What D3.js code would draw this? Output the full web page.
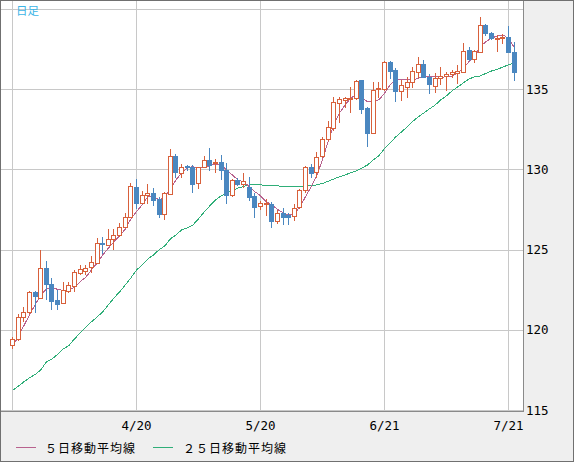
<!DOCTYPE html>
<html><head><meta charset="utf-8">
<script src="https://cdn.jsdelivr.net/npm/d3@7"></script>
<style>html,body{margin:0;padding:0;background:#fff;overflow:hidden}</style>
</head><body><svg id="c" width="574" height="462"></svg>
<script>
// ---- data ----
const openP = [119.03,119.41,120.78,121.09,122.36,121.96,123.85,122.86,121.86,121.65,
122.42,122.73,123.56,123.68,123.90,124.15,125.39,125.31,125.64,125.89,
126.43,127.05,128.88,127.92,128.39,128.55,128.14,127.22,128.45,130.84,
129.79,130.23,130.13,129.13,130.17,130.59,130.38,130.48,129.96,128.40,
129.34,129.07,128.92,128.34,127.74,127.84,127.84,126.80,127.26,127.16,
127.09,127.64,128.72,130.17,129.86,130.84,131.88,132.56,134.16,134.33,
134.37,134.43,135.57,133.81,132.29,134.99,135.01,136.71,136.20,134.91,
135.12,135.43,136.09,136.57,135.78,135.22,135.68,135.82,135.93,135.99,
136.09,137.44,136.86,137.34,139.00,138.52,138.15,138.21,138.24,137.34];
const highP = [119.53,120.97,121.40,122.44,122.44,124.98,124.29,123.23,122.48,123.00,
122.96,123.73,124.04,124.04,124.62,125.70,125.77,126.27,126.27,126.64,
127.26,129.15,129.38,128.67,129.07,128.82,128.30,128.61,131.25,130.96,
130.34,130.29,130.27,130.17,130.85,131.32,130.63,130.90,130.38,129.40,
129.45,129.76,129.55,128.51,128.05,128.14,127.99,127.47,127.57,127.26,
127.84,128.76,130.21,130.34,131.10,132.04,133.04,134.53,134.53,134.53,
135.16,135.57,135.57,133.91,135.47,135.47,136.77,136.77,136.30,135.57,
135.78,136.40,136.99,136.82,135.93,135.99,136.40,136.09,136.20,136.51,
137.86,137.65,137.44,139.48,139.06,138.58,138.38,138.44,138.94,137.96];
const lowP = [118.88,119.36,120.55,121.03,121.11,121.96,121.92,121.28,121.28,121.65,
122.38,122.44,123.48,123.48,123.62,124.15,124.77,125.31,125.04,125.85,
126.39,127.01,127.57,127.88,127.88,127.76,127.01,126.91,128.45,129.51,
129.55,129.96,128.61,128.82,130.13,129.96,129.86,129.38,127.89,128.34,
129.03,128.92,128.09,127.01,127.51,127.16,126.43,126.64,126.60,126.60,
126.85,127.57,128.61,129.51,129.55,130.79,131.83,132.46,132.97,133.91,
133.60,134.39,133.50,131.48,132.25,134.53,134.95,135.68,134.28,134.33,
134.50,135.12,135.78,135.73,134.78,134.84,135.32,134.95,135.78,135.37,
136.05,136.82,136.72,137.34,138.39,138.11,137.40,137.86,137.34,135.57];
const closeP = [119.41,120.78,121.09,122.36,122.13,123.83,122.84,121.81,121.61,122.48,
122.77,123.60,123.77,123.87,124.25,125.39,125.33,125.64,125.89,126.43,
127.05,128.97,127.92,128.40,128.51,128.09,127.22,128.51,130.84,129.86,
130.17,130.15,129.11,130.13,130.59,130.27,130.48,129.96,128.40,129.34,
129.07,129.30,128.30,127.67,127.89,127.89,126.80,127.26,127.05,127.05,
127.57,128.72,130.13,129.79,130.79,131.88,132.62,134.22,134.37,134.43,
134.43,135.53,133.75,132.29,134.95,135.06,136.71,136.15,134.91,135.26,
135.47,136.13,136.57,135.78,135.32,135.68,135.82,135.93,136.05,136.13,
137.40,136.86,137.40,139.00,138.52,138.17,138.21,138.27,137.34,136.09];
const ma5 = [118.95,119.57,120.24,120.92,121.55,122.17,122.53,122.59,122.53,122.44,
122.48,122.65,123.00,123.27,123.73,124.15,124.66,125.08,125.49,125.85,
126.27,126.90,127.36,127.78,128.30,128.30,128.09,128.30,128.72,129.34,
129.76,130.07,130.17,130.07,130.13,130.21,130.34,130.27,129.96,129.65,
129.34,129.23,128.92,128.61,128.35,127.99,127.78,127.51,127.30,127.16,
127.22,127.67,128.30,128.92,129.65,130.59,131.73,132.77,133.50,134.01,
134.43,134.68,134.43,134.22,134.22,134.33,134.74,135.26,135.57,135.61,
135.57,135.57,135.68,135.82,135.78,135.78,135.72,135.78,135.82,135.99,
136.30,136.72,137.03,137.65,137.96,138.17,138.32,138.38,138.17,137.60];
const ma25 = [116.22,116.47,116.75,117.00,117.21,117.49,117.99,118.18,118.46,118.80,
119.02,119.43,119.80,120.17,120.49,120.80,121.11,121.55,121.98,122.36,
122.79,123.23,123.72,124.04,124.41,124.66,124.98,125.22,125.66,125.91,
126.22,126.35,126.53,126.91,127.34,127.72,128.09,128.34,128.53,128.65,
128.84,128.93,129.03,129.06,129.03,129.00,128.97,128.97,128.93,128.92,
128.92,128.93,128.97,129.00,129.03,129.12,129.25,129.40,129.53,129.65,
129.78,129.90,130.09,130.27,130.59,130.84,131.30,131.65,132.02,132.33,
132.64,132.99,133.27,133.52,133.77,134.01,134.33,134.58,134.89,135.14,
135.39,135.64,135.76,135.82,135.98,136.13,136.23,136.38,136.51,136.63];
const xTickIndex = [0, 22, 44, 66, 88];
const xTickLabels = ["", "4/20", "5/20", "6/21", "7/21"];
const yGridValues = [115, 120, 125, 130, 135, 140];
const yTickLabels = ["115", "120", "125", "130", "135"];
const legendNames = ["５日移動平均線", "２５日移動平均線"];
const titleLabel = "日足";

// ---- styles ----
const C = {up:"#d8603b", down:"#4a87c0", ma5:"#b8628e", ma25:"#2fae78",
           grid:"#c8c8c8", frame:"#8a8a8a", outer:"#707070", bg:"#efefef", title:"#3cb4e6"};

const svg = d3.select("#c");
svg.append("rect").attr("x",0.5).attr("y",0.5).attr("width",573).attr("height",461)
  .attr("fill",C.bg).attr("stroke",C.outer);
svg.append("rect").attr("x",1).attr("y",1).attr("width",522).attr("height",410).attr("fill","#fff");

const n = closeP.length;
const x = d3.scaleLinear().domain([0, n-1]).range([12.5, 514.1]);
const y = d3.scaleLinear().domain([115, 140]).range([410, 8.9]);
const px = i => Math.floor(x(i)) + 0.5;
const py = v => Math.round(y(v)) + 0.5;

svg.append("defs").append("clipPath").attr("id","pc")
  .append("rect").attr("x",1).attr("y",1).attr("width",522).attr("height",410);

const grid = svg.append("g").attr("shape-rendering","crispEdges");
grid.selectAll("line.h").data(yGridValues).join("line").attr("class","h")
  .attr("x1",1).attr("x2",523).attr("y1",d=>py(d)-0.5).attr("y2",d=>py(d)-0.5)
  .attr("stroke",C.grid).attr("stroke-width",1);
grid.selectAll("line.v").data(xTickIndex).join("line").attr("class","v")
  .attr("x1",d=>px(d)).attr("x2",d=>px(d)).attr("y1",1).attr("y2",411)
  .attr("stroke",C.grid).attr("stroke-width",1);

// frame
svg.append("line").attr("x1",523.5).attr("x2",523.5).attr("y1",1).attr("y2",412)
  .attr("stroke",C.frame);
svg.append("line").attr("x1",1).attr("x2",524).attr("y1",411.5).attr("y2",411.5)
  .attr("stroke",C.frame);

const plot = svg.append("g").attr("clip-path","url(#pc)");

// moving averages
const line = d3.line().x((d,i)=>x(i)).y(d=>y(d));
plot.append("path").datum(ma25).attr("d",line).attr("fill","none")
  .attr("stroke",C.ma25).attr("stroke-width",1).attr("shape-rendering","crispEdges");
plot.append("path").datum(ma5).attr("d",line).attr("fill","none")
  .attr("stroke",C.ma5).attr("stroke-width",1).attr("shape-rendering","crispEdges");

// candles
const idx = d3.range(n);
const cg = plot.append("g").attr("shape-rendering","crispEdges");
const cs = cg.selectAll("g").data(idx).join("g");
cs.append("line")
  .attr("x1",i=>px(i)).attr("x2",i=>px(i))
  .attr("y1",i=>Math.round(y(highP[i]))).attr("y2",i=>Math.round(y(lowP[i]))+1)
  .attr("stroke",i=>closeP[i]>=openP[i]?C.up:C.down);
cs.each(function(i){
  const g = d3.select(this);
  const up = closeP[i] >= openP[i];
  const top = Math.round(y(Math.max(openP[i],closeP[i])));
  const bot = Math.round(y(Math.min(openP[i],closeP[i])));
  const cx = Math.floor(x(i));
  if (up) {
    g.append("rect").attr("x",cx-1.5).attr("y",top+0.5)
      .attr("width",4).attr("height",Math.max(1,bot-top))
      .attr("fill","#fff").attr("stroke",C.up).attr("stroke-width",1);
  } else {
    g.append("rect").attr("x",cx-2).attr("y",top)
      .attr("width",5).attr("height",Math.max(1,bot-top+1))
      .attr("fill",C.down);
  }
});

// axis labels
const tf = "'DejaVu Sans Mono', monospace";
svg.append("g").selectAll("text").data(yTickLabels).join("text")
  .attr("x",526).attr("y",d=>y(+d)+4.5)
  .attr("font-family",tf).attr("font-size","12.5px").attr("fill","#000")
  .text(d=>d);
svg.append("g").selectAll("text").data(xTickIndex).join("text")
  .attr("x",d=>x(d)).attr("y",430)
  .attr("text-anchor","middle")
  .attr("font-family",tf).attr("font-size","12.5px").attr("fill","#000")
  .text((d,k)=>xTickLabels[k]);

// title
svg.append("text").attr("x",16).attr("y",15).attr("font-family","'Noto Sans CJK JP'")
  .attr("font-size","11.5px").attr("fill",C.title).text(titleLabel);

// legend
const lg = svg.append("g");
const lx = [16, 153], tx = [45, 183], lc = [C.ma5, C.ma25];
legendNames.forEach((name,k)=>{
  lg.append("line").attr("x1",lx[k]).attr("x2",lx[k]+20).attr("y1",447.5).attr("y2",447.5)
    .attr("stroke",lc[k]).attr("stroke-width",1);
  lg.append("text").attr("x",tx[k]).attr("y",452.5)
    .attr("font-family","'Noto Sans CJK JP'").attr("font-size","12px")
    .attr("letter-spacing","1px").attr("fill","#000").text(name);
});
</script>
</body></html>
